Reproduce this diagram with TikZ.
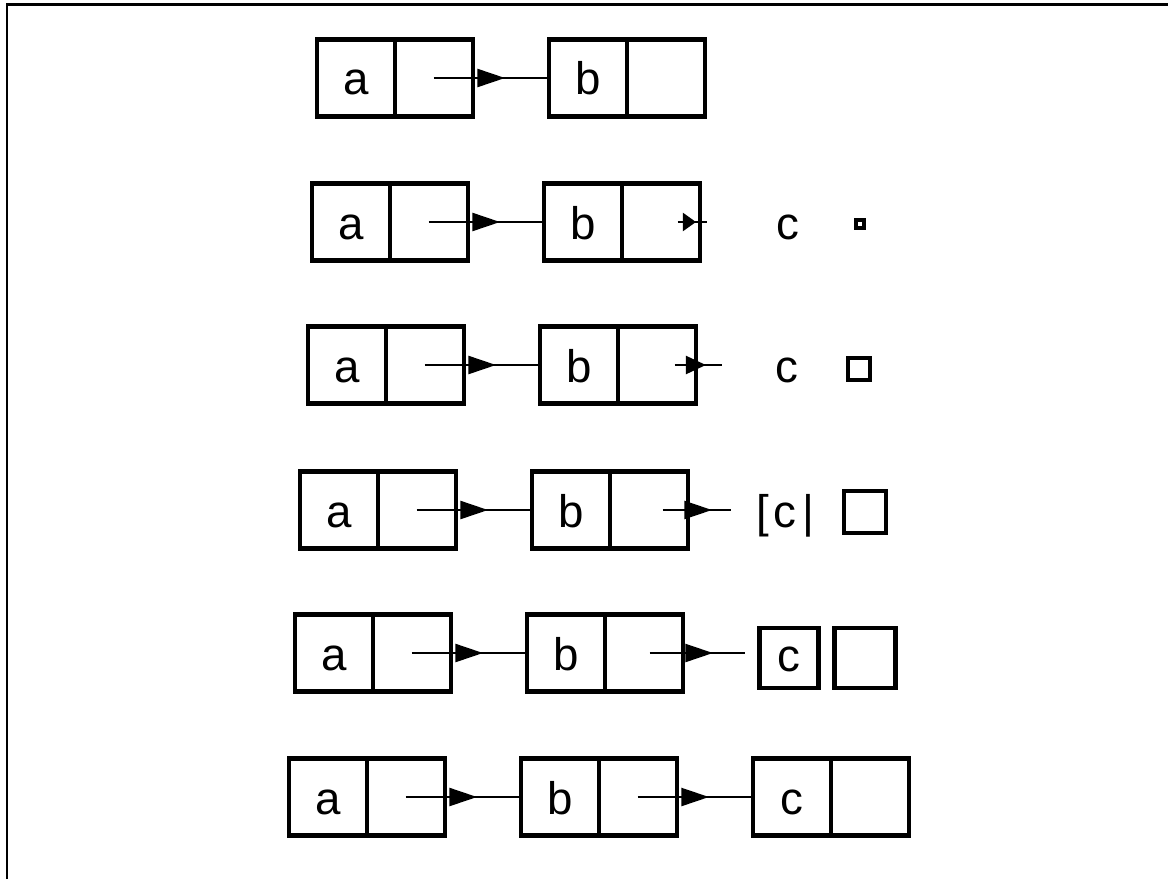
\documentclass[tikz,border=0pt]{standalone}
\usepackage{fontspec}
\setmainfont{Liberation Sans}
\usetikzlibrary{arrows.meta,positioning,calc}
\tikzset{
  lbl/.style={inner sep=0pt,outer sep=0pt,text height=0.68cm,text depth=0pt,
    font=\fontsize{26}{30}\selectfont},
  cell/.style={lbl,draw,line width=2.5pt,minimum width=1.56cm,minimum height=1.54cm},
  slot/.style={draw,line width=2.5pt,inner sep=0pt,outer sep=0pt,minimum size=#1},
  link/.style={line width=1.2pt},
  headed/.style={link,-{Triangle[length=#1,width=3.6mm]}},
  headed/.default=5.5mm,
}
\begin{document}
\begin{tikzpicture}[x=0.02cm,y=-0.02cm]
  \useasboundingbox (0,0) rectangle (1168,879);
  \draw[line width=1.7pt] (7,879) -- (7,4.5) -- (1168,4.5);
  % a -> b in every row
  \foreach \r/\x/\y in {1/356/78,2/351/222,3/347/365,4/339/510,5/334/653,6/328/797}{
    \node[cell] (a\r) at (\x,\y) {a};
    \node[cell,right=0pt of a\r] (a\r p) {};
    \node[cell,right=1.52cm of a\r p] (b\r) {b};
    \node[cell,right=0pt of b\r] (b\r p) {};
    \draw[link] (a\r p.center) -- (b\r.west);
    \draw[headed] (a\r p.center) -- ($(a\r p.east)+(32,0)$);
  }
  % row 2
  \node[lbl] (c2) at (788,222) {c};
  \node[slot=0.16cm] (q2) at (860,224) {};
  \coordinate (s2) at ($(b2p.east)+(-22,0)$);
  \coordinate (e2) at ($(b2p.east)+(7,0)$);
  \draw[link] (s2) -- (e2);
  \draw[headed=2.6mm] (s2) -- ($(b2p.east)+(-4,0)$);
  % row 3
  \node[lbl] (c3) at (787,365) {c};
  \node[slot=0.44cm] (q3) at (859,369) {};
  \coordinate (s3) at ($(b3p.east)+(-21,0)$);
  \coordinate (e3) at ($(b3p.east)+(26,0)$);
  \draw[link] (s3) -- (e3);
  \draw[headed=4mm] (s3) -- ($(b3p.east)+(10,0)$);
  % row 4
  \node[lbl] (c4) at (785,510) {[\kern3pt c\kern3pt|};
  \node[slot=0.84cm] (q4) at (865,512) {};
  \coordinate (s4) at ($(b4p.east)+(-25,0)$);
  \coordinate (e4) at ($(b4p.east)+(43,0)$);
  \draw[link] (s4) -- (e4);
  \draw[headed] (s4) -- ($(b4p.east)+(24,0)$);
  % row 5
  \node[lbl,text height=0.52cm,draw,line width=2.5pt,minimum width=1.18cm,minimum height=1.2cm] (c5) at (789,658) {c};
  \node[draw,line width=2.5pt,inner sep=0pt,minimum width=1.22cm,minimum height=1.2cm] (q5) at (865,658) {};
  \coordinate (s5) at ($(b5p.east)+(-33,0)$);
  \coordinate (e5) at ($(b5p.east)+(62,0)$);
  \draw[link] (s5) -- (e5);
  \draw[headed] (s5) -- ($(b5p.east)+(30,0)$);
  % row 6
  \node[cell,right=1.52cm of b6p] (c6) {c};
  \node[cell,right=0pt of c6] (c6p) {};
  \draw[link] (b6p.center) -- (c6.west);
  \draw[headed] (b6p.center) -- ($(b6p.east)+(32,0)$);
\end{tikzpicture}
\end{document}
